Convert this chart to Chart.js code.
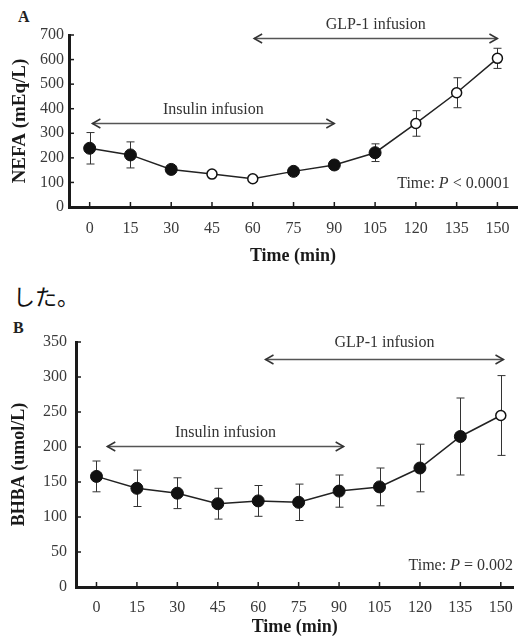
<!DOCTYPE html>
<html>
<head>
<meta charset="utf-8">
<script src="https://cdn.jsdelivr.net/npm/chart.js@4.4.1/dist/chart.umd.min.js"></script>
<style>
  html, body { margin: 0; padding: 0; background: #fff; }
  body { width: 524px; height: 638px; position: relative; overflow: hidden; }
  canvas { position: absolute; left: 0; }
  #chartA { top: 0; }
  #chartB { top: 315px; }
  .panel { position: absolute; font: bold 16px "Liberation Serif", serif; color: #222; }
  .jp { position: absolute; left: 13px; top: 279px; font: 22px "Noto Sans CJK JP", sans-serif; color: #111; }
</style>
</head>
<body>
<div class="panel" style="left:18px;top:8px">A</div>
<canvas id="chartA" width="524" height="270"></canvas>
<div class="jp">した。</div>
<div class="panel" style="left:13px;top:319px">B</div>
<canvas id="chartB" width="524" height="323"></canvas>
<script>
// time points (min)
const timeMin = [0, 15, 30, 45, 60, 75, 90, 105, 120, 135, 150];

// panel A: NEFA (mEq/L)
const nefaMean = [239, 212, 153, 134, 115, 145, 171, 221, 340, 465, 605];
const nefaErr  = [64, 53, 15, 10, 10, 12, 18, 36, 52, 61, 41];
const nefaOpen = [false, false, false, true, true, false, false, false, true, true, true];
const nefaTicks = [0, 100, 200, 300, 400, 500, 600, 700];
const nefaArrows = [
  { label: "Insulin infusion", from: 1, to: 90, y: 342, textY: 395 },
  { label: "GLP-1 infusion", from: 60.5, to: 150, y: 688, textY: 741 }
];
const nefaP = { x: 154.5, y: 94, parts: ["Time: ", "P", " < 0.0001"] };

// panel B: BHBA (umol/L)
const bhbaMean = [158, 141, 134, 119, 123, 121, 137, 143, 170, 215, 245];
const bhbaErr  = [22, 26, 22, 22, 22, 26, 23, 27, 34, 55, 57];
const bhbaOpen = [false, false, false, false, false, false, false, false, false, false, true];
const bhbaTicks = [0, 50, 100, 150, 200, 250, 300, 350];
const bhbaArrows = [
  { label: "Insulin infusion", from: 4, to: 91.7, y: 201, textY: 221 },
  { label: "GLP-1 infusion", from: 62.7, to: 151, y: 326, textY: 349 }
];
const bhbaP = { x: 154.5, y: 31, parts: ["Time: ", "P", " = 0.002"] };

const SERIF = '"Liberation Serif", "Times New Roman", serif';
const INK = "#1a1a1a";
const TICK_INK = "#3a3a3a";

function arrowHead(ctx, x, y, dir) {
  ctx.beginPath();
  ctx.moveTo(x - dir * 8, y - 4.5);
  ctx.lineTo(x, y);
  ctx.lineTo(x - dir * 8, y + 4.5);
  ctx.stroke();
}

const overlay = {
  id: "overlay",
  beforeDatasetsDraw(chart, args, opts) {
    const { ctx, scales: { x, y } } = chart;
    ctx.save();
    ctx.strokeStyle = "#333";
    ctx.lineWidth = 1;
    opts.mean.forEach((m, i) => {
      const px = Math.round(x.getPixelForValue(timeMin[i])) + 0.5;
      const top = y.getPixelForValue(m + opts.err[i]);
      const bot = y.getPixelForValue(m - opts.err[i]);
      ctx.beginPath();
      ctx.moveTo(px, top); ctx.lineTo(px, bot);
      ctx.moveTo(px - 4, top); ctx.lineTo(px + 4, top);
      ctx.moveTo(px - 4, bot); ctx.lineTo(px + 4, bot);
      ctx.stroke();
    });
    ctx.restore();
  },
  afterDraw(chart, args, opts) {
    const { ctx, chartArea: area, scales: { x, y } } = chart;
    ctx.save();
    // inward tick marks
    ctx.strokeStyle = INK;
    ctx.lineWidth = 1.5;
    x.ticks.forEach(t => {
      const px = x.getPixelForValue(t.value);
      ctx.beginPath(); ctx.moveTo(px, area.bottom); ctx.lineTo(px, area.bottom - 5); ctx.stroke();
    });
    y.ticks.forEach(t => {
      const py = y.getPixelForValue(t.value);
      ctx.beginPath(); ctx.moveTo(area.left, py); ctx.lineTo(area.left + 5, py); ctx.stroke();
    });

    // infusion arrows
    opts.arrows.forEach(a => {
      const x1 = x.getPixelForValue(a.from), x2 = x.getPixelForValue(a.to);
      const py = Math.round(y.getPixelForValue(a.y)) + 0.5;
      ctx.strokeStyle = "#555";
      ctx.lineWidth = 1.5;
      ctx.beginPath(); ctx.moveTo(x1, py); ctx.lineTo(x2, py); ctx.stroke();
      ctx.strokeStyle = "#333";
      arrowHead(ctx, x1, py, -1);
      arrowHead(ctx, x2, py, 1);
      ctx.fillStyle = "#333";
      ctx.font = "16px " + SERIF;
      ctx.textAlign = "center";
      ctx.textBaseline = "middle";
      ctx.fillText(a.label, (x1 + x2) / 2, y.getPixelForValue(a.textY));
    });

    // p-value note, right aligned
    const p = opts.pnote;
    const fonts = ["16px " + SERIF, "italic 16px " + SERIF, "16px " + SERIF];
    let widths = p.parts.map((s, i) => { ctx.font = fonts[i]; return ctx.measureText(s).width; });
    let cx = x.getPixelForValue(p.x) - widths.reduce((a, b) => a + b, 0);
    const cy = y.getPixelForValue(p.y);
    ctx.fillStyle = "#333";
    ctx.textAlign = "left";
    ctx.textBaseline = "middle";
    p.parts.forEach((s, i) => { ctx.font = fonts[i]; ctx.fillText(s, cx, cy); cx += widths[i]; });
    ctx.restore();
  }
};

function makeChart(id, cfg) {
  const points = timeMin.map((t, i) => ({ x: t, y: cfg.mean[i] }));
  return new Chart(document.getElementById(id), {
    type: "line",
    data: {
      datasets: [{
        data: points,
        borderColor: "#222",
        borderWidth: 1.5,
        tension: 0,
        pointRadius: cfg.open.map(o => o ? 5 : 6),
        pointBackgroundColor: cfg.open.map(o => o ? "#fff" : "#111"),
        pointBorderColor: "#111",
        pointBorderWidth: cfg.open.map(o => o ? 1.5 : 1),
        clip: false
      }]
    },
    options: {
      responsive: false,
      animation: false,
      events: [],
      layout: { padding: { top: cfg.padTop, left: 0, right: 0, bottom: 0 } },
      plugins: {
        legend: { display: false },
        tooltip: { enabled: false },
        overlay: { mean: cfg.mean, err: cfg.err, arrows: cfg.arrows, pnote: cfg.pnote }
      },
      scales: {
        x: {
          type: "linear",
          min: cfg.xMin,
          max: cfg.xMax,
          afterBuildTicks: s => { s.ticks = timeMin.map(v => ({ value: v })); },
          afterFit: s => { s.height = cfg.xHeight; },
          grid: { display: true, drawOnChartArea: false, drawTicks: false },
          border: { display: true, color: INK, width: 3 },
          ticks: { color: TICK_INK, font: { family: SERIF, size: 16 }, padding: cfg.xPad, maxRotation: 0 },
          title: { display: true, text: "Time (min)", color: INK, font: { family: SERIF, size: 18, weight: "bold" }, padding: { top: 0, bottom: cfg.titlePad } }
        },
        y: {
          min: cfg.ticks[0],
          max: cfg.ticks[cfg.ticks.length - 1],
          afterBuildTicks: s => { s.ticks = cfg.ticks.map(v => ({ value: v })); },
          afterFit: s => { s.width = cfg.yWidth; },
          grid: { display: true, drawOnChartArea: false, drawTicks: false },
          border: { display: true, color: INK, width: 3 },
          ticks: { color: TICK_INK, font: { family: SERIF, size: 16 }, padding: cfg.yPad },
          title: { display: true, text: cfg.yTitle, color: INK, font: { family: SERIF, size: cfg.yTitleSize, weight: "bold" }, padding: { top: 9, bottom: 0 } }
        }
      }
    },
    plugins: [overlay]
  });
}

makeChart("chartA", {
  mean: nefaMean, err: nefaErr, open: nefaOpen, ticks: nefaTicks,
  arrows: nefaArrows, pnote: nefaP, yTitle: "NEFA (mEq/L)", yTitleSize: 19,
  xMin: -7.6, xMax: 157.2, padTop: 35, xHeight: 63, yWidth: 69,
  xPad: 12, yPad: 5, titlePad: 3
});

makeChart("chartB", {
  mean: bhbaMean, err: bhbaErr, open: bhbaOpen, ticks: bhbaTicks,
  arrows: bhbaArrows, pnote: bhbaP, yTitle: "BHBA (umol/L)", yTitleSize: 18,
  xMin: -7.6, xMax: 154.7, padTop: 27, xHeight: 51, yWidth: 76,
  xPad: 11, yPad: 9, titlePad: 0
});
</script>
</body>
</html>
